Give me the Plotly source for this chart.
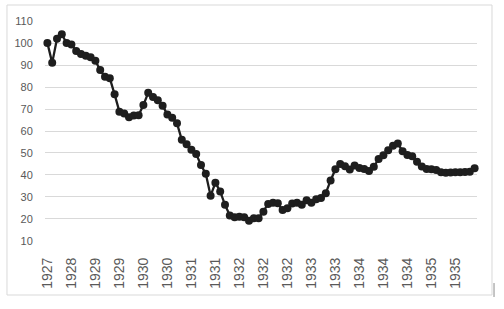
import plotly.graph_objects as go

values = [100, 91, 102, 104, 100, 99.4, 96.4, 95, 94.2, 93.5,
          92, 87.7, 84.7, 84, 76.7, 68.8, 68, 66.2, 67, 67.2,
          71.8, 77.4, 75.5, 74, 71.5, 67.5, 66, 63.5, 56, 54,
          51.5, 49.5, 44.5, 40.5, 30.5, 36.5, 32.5, 26.4, 21.6, 20.7,
          21, 20.8, 19.2, 20.3, 20.3, 23.3, 26.8, 27.4, 27.1, 24,
          24.8, 27, 27.4, 26.5, 28.5, 27.3, 29, 29.5, 31.7, 37.5,
          42.6, 45, 44, 42.5, 44.3, 43.2, 42.7, 41.8, 43.7, 47.3,
          49, 51.2, 53.3, 54.3, 50.8, 49.1, 48.5, 46, 43.8, 42.7,
          42.6, 42.3, 41.2, 41, 41.1, 41.2, 41.2, 41.3, 41.5, 43]

tick_labels = ["1927", "1928", "1929", "1929", "1930", "1930", "1931", "1931", "1932",
               "1932", "1932", "1933", "1933", "1934", "1934", "1934", "1935", "1935"]
tick_step = 5

x = list(range(len(values)))
tickvals = [i * tick_step for i in range(len(tick_labels))]

fig = go.Figure()
fig.add_trace(go.Scatter(
    x=x, y=values, mode="lines+markers",
    line=dict(color="#1e1e1e", width=2.3),
    marker=dict(color="#1e1e1e", size=8),
    showlegend=False, cliponaxis=False,
))

fig.update_layout(
    width=504, height=309,
    margin=dict(l=45, r=27, t=21, b=68),
    paper_bgcolor="white", plot_bgcolor="white",
    font=dict(family="Liberation Sans, Arial, sans-serif", color="#595959"),
    xaxis=dict(
        range=[-0.5, len(values) - 0.5],
        tickmode="array", tickvals=tickvals, ticktext=tick_labels,
        tickangle=-90, tickfont=dict(size=14, color="#595959"),
        showgrid=False, zeroline=False, showline=False,
        ticks="outside", ticklen=10, tickcolor="rgba(0,0,0,0)",
    ),
    yaxis=dict(
        range=[9.95, 110.05], dtick=10, tick0=10,
        tickfont=dict(size=11, color="#595959"),
        showgrid=True, gridcolor="#d9d9d9", gridwidth=1,
        zeroline=False, showline=False,
        ticks="outside", ticklen=9, tickcolor="rgba(0,0,0,0)",
    ),
    shapes=[
        dict(type="rect", xref="paper", yref="paper",
             x0=-0.088, x1=1.0347, y0=-0.2455, y1=1.0727,
             line=dict(color="#d9d9d9", width=1), fillcolor="rgba(0,0,0,0)",
             layer="below"),
        dict(type="line", xref="paper", yref="paper",
             x0=1.0394, x1=1.0394, y0=-0.191, y1=-0.2545,
             line=dict(color="#8c8c8c", width=1)),
    ],
)

fig.write_html("out.html", config={"displayModeBar": False},
               post_script="document.body.style.margin='0';")
